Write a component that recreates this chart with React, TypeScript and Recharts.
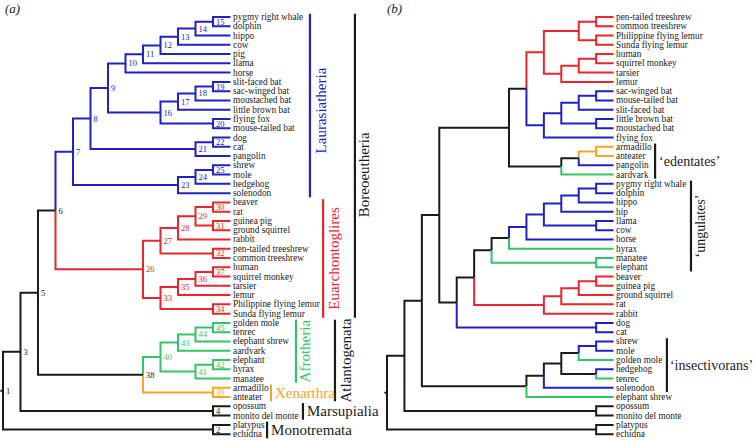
import { ComposedChart, Line, Scatter, XAxis, YAxis } from "recharts"

const W = 755
const H = 441
const BLUE = "#2121c6"
const RED = "#e8262c"
const GREEN = "#33c46a"
const ORANGE = "#f5a52a"
const BLACK = "#1b1b1b"
const FONT = "'Liberation Serif', 'Times New Roman', serif"

// leaf colour = superorder
const laurasiatheria = [
  "pygmy right whale", "dolphin", "hippo", "cow", "pig", "hip", "llama", "horse",
  "slit-faced bat", "sac-winged bat", "moustached bat", "little brown bat", "flying fox", "mouse-tailed bat",
  "dog", "cat", "pangolin", "shrew", "mole", "hedgehog", "solenodon",
]
const euarchontoglires = [
  "beaver", "rat", "guinea pig", "ground squirrel", "rabbit", "pen-tailed treeshrew", "common treeshrew",
  "human", "squirrel monkey", "tarsier", "lemur", "Philippine flying lemur", "Sunda flying lemur",
]
const afrotheria = ["golden mole", "tenrec", "elephant shrew", "aardvark", "elephant", "hyrax", "manatee"]
const xenarthra = ["armadillo", "anteater"]

// internal nodes: [id, depth, upper child, lower child]; leaves sit at depth 13
type Row = [string, number, string, string]

const nodesA: Row[] = [
  ["1", 0, "3", "2"],
  ["2", 12, "platypus", "echidna"],
  ["3", 1, "5", "4"],
  ["4", 12, "opossum", "monito del monte"],
  ["5", 2, "6", "38"],
  ["6", 3, "7", "26"],
  ["7", 4, "8", "23"],
  ["8", 5, "9", "21"],
  ["9", 6, "10", "16"],
  ["10", 7, "11", "horse"],
  ["11", 8, "12", "llama"],
  ["12", 9, "13", "pig"],
  ["13", 10, "14", "cow"],
  ["14", 11, "15", "hippo"],
  ["15", 12, "pygmy right whale", "dolphin"],
  ["16", 9, "17", "20"],
  ["17", 10, "18", "little brown bat"],
  ["18", 11, "19", "moustached bat"],
  ["19", 12, "slit-faced bat", "sac-winged bat"],
  ["20", 12, "flying fox", "mouse-tailed bat"],
  ["21", 11, "22", "pangolin"],
  ["22", 12, "dog", "cat"],
  ["23", 10, "24", "solenodon"],
  ["24", 11, "25", "hedgehog"],
  ["25", 12, "shrew", "mole"],
  ["26", 8, "27", "33"],
  ["27", 9, "28", "32"],
  ["28", 10, "29", "rabbit"],
  ["29", 11, "30", "31"],
  ["30", 12, "beaver", "rat"],
  ["31", 12, "guinea pig", "ground squirrel"],
  ["32", 12, "pen-tailed treeshrew", "common treeshrew"],
  ["33", 9, "35", "34"],
  ["34", 12, "Philippine flying lemur", "Sunda flying lemur"],
  ["35", 10, "36", "lemur"],
  ["36", 11, "37", "tarsier"],
  ["37", 12, "human", "squirrel monkey"],
  ["38", 8, "40", "39"],
  ["39", 12, "armadillo", "anteater"],
  ["40", 9, "43", "41"],
  ["41", 11, "42", "manatee"],
  ["42", 12, "elephant", "hyrax"],
  ["43", 10, "44", "aardvark"],
  ["44", 11, "45", "elephant shrew"],
  ["45", 12, "golden mole", "tenrec"],
]

const nodesB: Row[] = [
  ["n0", 0, "n1", "mono"],
  ["mono", 12, "platypus", "echidna"],
  ["n1", 1, "n2", "mars"],
  ["mars", 12, "opossum", "monito del monte"],
  ["n2", 2, "n3", "ins"],
  ["n3", 3, "n4", "n5"],
  ["n4", 7, "n6", "ede"],
  ["n6", 8, "pri", "bat"],
  ["pri", 9, "pri1", "pri2"],
  ["pri1", 11, "ts", "fl"],
  ["ts", 12, "pen-tailed treeshrew", "common treeshrew"],
  ["fl", 12, "Philippine flying lemur", "Sunda flying lemur"],
  ["pri2", 10, "pri3", "lemur"],
  ["pri3", 11, "hs", "tarsier"],
  ["hs", 12, "human", "squirrel monkey"],
  ["bat", 9, "bat1", "flying fox"],
  ["bat1", 10, "bat2", "bat3"],
  ["bat2", 11, "bat4", "slit-faced bat"],
  ["bat4", 12, "sac-winged bat", "mouse-tailed bat"],
  ["bat3", 12, "little brown bat", "moustached bat"],
  ["ede", 10, "ede1", "aardvark"],
  ["ede1", 11, "ede2", "pangolin"],
  ["ede2", 12, "armadillo", "anteater"],
  ["n5", 4, "n7", "car"],
  ["car", 12, "dog", "cat"],
  ["n7", 5, "n8", "rod"],
  ["rod", 9, "rod1", "rabbit"],
  ["rod1", 10, "rod2", "rat"],
  ["rod2", 11, "rod3", "ground squirrel"],
  ["rod3", 12, "beaver", "guinea pig"],
  ["n8", 6, "n9", "sir"],
  ["sir", 12, "manatee", "elephant"],
  ["n9", 7, "n10", "hyrax"],
  ["n10", 8, "n11", "horse"],
  ["n11", 9, "n12", "lc"],
  ["lc", 12, "llama", "cow"],
  ["n12", 10, "n13", "hip"],
  ["n13", 11, "wd", "hippo"],
  ["wd", 12, "pygmy right whale", "dolphin"],
  ["ins", 8, "ins1", "elephant shrew"],
  ["ins1", 9, "ins2", "solenodon"],
  ["ins2", 10, "ins3", "ht"],
  ["ins3", 11, "sm", "golden mole"],
  ["sm", 12, "shrew", "mole"],
  ["ht", 12, "hedgehog", "tenrec"],
]

// bracketed groups: [label, first leaf, last leaf]
const cladesA: [string, string, string][] = [
  ["Laurasiatheria", "pygmy right whale", "solenodon"],
  ["Euarchontoglires", "beaver", "Sunda flying lemur"],
  ["Afrotheria", "golden mole", "manatee"],
  ["Xenarthra", "armadillo", "anteater"],
  ["Boreoeutheria", "pygmy right whale", "Sunda flying lemur"],
  ["Atlantogenata", "golden mole", "anteater"],
  ["Marsupialia", "opossum", "monito del monte"],
  ["Monotremata", "platypus", "echidna"],
]
const cladesB: [string, string, string][] = [
  ["\u2018edentates\u2019", "armadillo", "aardvark"],
  ["\u2018ungulates\u2019", "pygmy right whale", "elephant"],
  ["\u2018insectivorans\u2019", "shrew", "solenodon"],
]

// where the brackets go (depth units) and how their labels are set
type Look = { at: number; color: string; turn: boolean; dx: number; dy: number; size: number }
const cladeLook: Record<string, Look> = {
  Laurasiatheria: { at: 17.54, color: BLUE, turn: true, dx: 11, dy: 5, size: 15 },
  Euarchontoglires: { at: 18.29, color: RED, turn: true, dx: 11, dy: 0, size: 15 },
  Afrotheria: { at: 16.74, color: GREEN, turn: true, dx: 9, dy: 0, size: 15 },
  Xenarthra: { at: 15.31, color: ORANGE, turn: false, dx: 4, dy: 0, size: 15 },
  Boreoeutheria: { at: 20.11, color: BLACK, turn: true, dx: 9, dy: 9, size: 15 },
  Atlantogenata: { at: 18.97, color: BLACK, turn: true, dx: 11, dy: 0, size: 15 },
  Marsupialia: { at: 17.14, color: BLACK, turn: false, dx: 4, dy: 0, size: 15 },
  Monotremata: { at: 15.09, color: BLACK, turn: false, dx: 4, dy: 0, size: 15 },
  "\u2018edentates\u2019": { at: 15.38, color: BLACK, turn: false, dx: 4, dy: 0, size: 14 },
  "\u2018ungulates\u2019": { at: 17.44, color: BLACK, turn: true, dx: 10, dy: 0, size: 14 },
  "\u2018insectivorans\u2019": { at: 16.06, color: BLACK, turn: false, dx: 3, dy: 0, size: 14 },
}

const TIP = 13
const Y0 = 17
const YSTEP = 9.27

function colorOf(name: string) {
  if (laurasiatheria.includes(name)) return BLUE
  if (euarchontoglires.includes(name)) return RED
  if (afrotheria.includes(name)) return GREEN
  if (xenarthra.includes(name)) return ORANGE
  return BLACK
}

type Pt = { x: number; y: number | null }

function buildTree(rows: Row[]) {
  const byId = new Map(rows.map((r) => [r[0], r]))
  const kids = new Set(rows.flatMap((r) => [r[2], r[3]]))
  const rootId = rows.find((r) => !kids.has(r[0]))![0]
  const paths: Record<string, Pt[]> = {}
  const leaves: { x: number; y: number; name: string }[] = []
  const labels: { x: number; y: number; name: string; color: string }[] = []
  const leafIndex: Record<string, number> = {}

  const add = (color: string, pts: Pt[]) => {
    if (!paths[color]) paths[color] = []
    paths[color].push(...pts, { x: pts[pts.length - 1].x, y: null })
  }

  const walk = (id: string): { x: number; y: number; color: string } => {
    const row = byId.get(id)
    if (!row) {
      const y = leaves.length
      leaves.push({ x: TIP, y, name: id })
      leafIndex[id] = y
      return { x: TIP, y, color: colorOf(id) }
    }
    const a = walk(row[2])
    const b = walk(row[3])
    const y = (a.y + b.y) / 2
    const color = a.color === b.color ? a.color : BLACK
    for (const k of [a, b]) {
      add(k.color, [{ x: row[1], y }, { x: row[1], y: k.y }, { x: k.x, y: k.y }])
    }
    labels.push({ x: row[1], y, name: id, color })
    return { x: row[1], y, color }
  }

  const root = walk(rootId)
  add(BLACK, [{ x: root.x - 0.15, y: root.y }, { x: root.x, y: root.y }])
  return { paths, leaves, labels, leafIndex }
}

function Panel({
  rows,
  clades,
  x0,
  step,
  numbered,
}: {
  rows: Row[]
  clades: [string, string, string][]
  x0: number
  step: number
  numbered: boolean
}) {
  const t = buildTree(rows)
  const groups = clades.map(([name, first, last]) => {
    const look = cladeLook[name]
    const y1 = t.leafIndex[first] - 0.35
    const y2 = t.leafIndex[last] + 0.45
    return {
      name,
      look,
      bar: [
        { x: look.at, y: y1 },
        { x: look.at, y: y2 },
      ],
      mid: { x: look.at, y: (y1 + y2) / 2, name },
    }
  })

  return (
    <div style={{ position: "absolute", left: 0, top: 0 }}>
      <ComposedChart width={W} height={H} margin={{ top: 0, right: 0, bottom: 0, left: 0 }}>
        <XAxis dataKey="x" type="number" domain={[-x0 / step, (W - x0) / step]} allowDataOverflow hide />
        <YAxis dataKey="y" type="number" domain={[-Y0 / YSTEP, (H - Y0) / YSTEP]} allowDataOverflow reversed hide />
        {Object.entries(t.paths).map(([c, pts]) => (
          <Line
            key={c}
            data={pts}
            dataKey="y"
            type="linear"
            stroke={c}
            strokeWidth={2}
            dot={false}
            activeDot={false}
            isAnimationActive={false}
          />
        ))}
        {groups.map((g) => (
          <Line
            key={"bar" + g.name}
            data={g.bar}
            dataKey="y"
            type="linear"
            stroke={g.look.color}
            strokeWidth={2.2}
            dot={false}
            activeDot={false}
            isAnimationActive={false}
          />
        ))}
        <Scatter
          data={t.leaves}
          isAnimationActive={false}
          shape={(p: any) => (
            <text x={p.cx + 2.5} y={p.cy} fontSize={9.3} fontFamily={FONT} fill={BLACK} dominantBaseline="central">
              {p.payload.name}
            </text>
          )}
        />
        {numbered && (
          <Scatter
            data={t.labels}
            isAnimationActive={false}
            shape={(p: any) => (
              <text
                x={p.cx + 3}
                y={p.cy}
                fontSize={8.5}
                fontFamily={FONT}
                fill={p.payload.color}
                dominantBaseline="central"
              >
                {p.payload.name}
              </text>
            )}
          />
        )}
        <Scatter
          data={groups.map((g) => g.mid)}
          isAnimationActive={false}
          shape={(p: any) => {
            const look = cladeLook[p.payload.name]
            const x = p.cx + look.dx
            const y = p.cy + look.dy
            return look.turn ? (
              <text
                x={x}
                y={y}
                fontSize={look.size}
                fontFamily={FONT}
                fill={look.color}
                textAnchor="middle"
                dominantBaseline="central"
                transform={`rotate(-90 ${x} ${y})`}
              >
                {p.payload.name}
              </text>
            ) : (
              <text x={x} y={y} fontSize={look.size} fontFamily={FONT} fill={look.color} dominantBaseline="central">
                {p.payload.name}
              </text>
            )
          }}
        />
      </ComposedChart>
    </div>
  )
}

export default function App() {
  return (
    <div
      style={{
        position: "absolute",
        left: 0,
        top: 0,
        width: W,
        height: H,
        background: "#fff",
        fontFamily: FONT,
      }}
    >
      <Panel rows={nodesA} clades={cladesA} x0={3} step={17.5} numbered />
      <Panel rows={nodesB} clades={cladesB} x0={387} step={17.43} numbered={false} />
      <span style={{ position: "absolute", left: 5, top: 1, fontSize: 13, fontStyle: "italic", color: BLACK }}>(a)</span>
      <span style={{ position: "absolute", left: 387, top: 1, fontSize: 13, fontStyle: "italic", color: BLACK }}>(b)</span>
    </div>
  )
}
